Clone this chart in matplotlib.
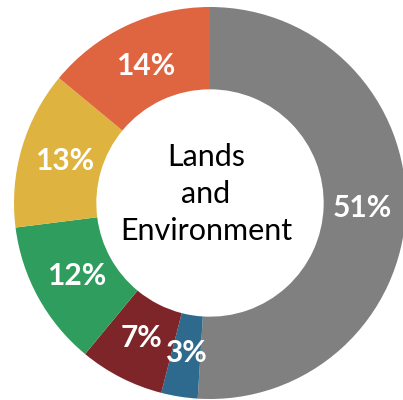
import numpy as np
import matplotlib.pyplot as plt

# share of each segment, clockwise from the top
shares = [51, 3, 7, 12, 13, 14]
labels = ['51%', '3%', '7%', '12%', '13%', '14%']
colors = ['#808080', '#2E6A8E', '#7E2529', '#2E9D5E', '#DFB340', '#DF6440']
center_text = 'Lands\nand\nEnvironment'

fig = plt.figure(figsize=(4.03, 4.0), dpi=100)
# square axes box, 392 px each side, centre of donut at (210, 203) px
ax = fig.add_axes([14 / 403, 1 / 400, 392 / 403, 392 / 400])

wedges, _ = ax.pie(shares, colors=colors, startangle=90, counterclock=False,
                   radius=1.0, wedgeprops=dict(width=0.42, linewidth=0))

# percentage labels in the middle of the ring
theta = 90.0
total = sum(shares)
for val, lab in zip(shares, labels):
    span = 360.0 * val / total
    mid = np.deg2rad(theta - span / 2)
    theta -= span
    ax.text(0.775 * np.cos(mid), 0.775 * np.sin(mid), lab, ha='center', va='center',
            color='white', fontsize=21.5, fontweight='bold', family='Lato')

ax.text(-0.02, 0.045, center_text, ha='center', va='center', fontsize=22,
        family='Lato', color='black', linespacing=1.4)

ax.set_xlim(-1, 1)
ax.set_ylim(-1, 1)
fig.savefig('out.png', dpi=100)
